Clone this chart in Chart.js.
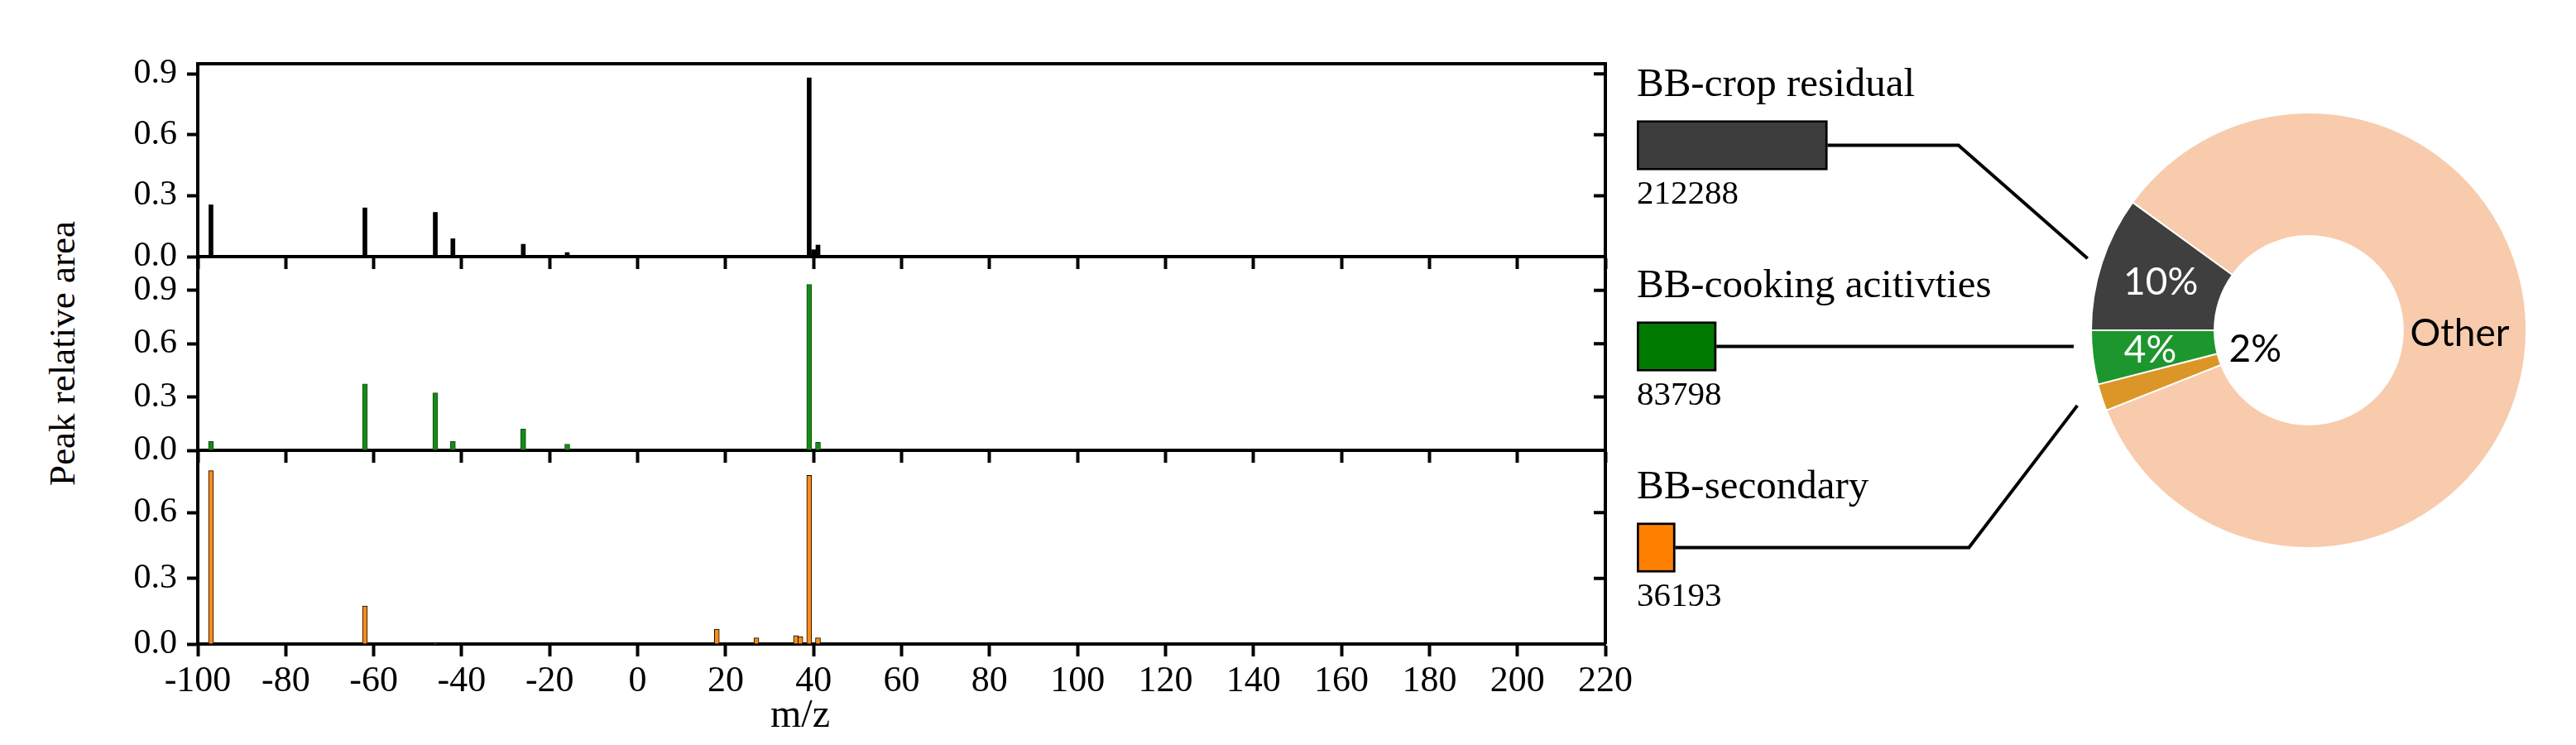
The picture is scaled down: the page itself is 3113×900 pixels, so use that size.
<!DOCTYPE html>
<html>
<head>
<meta charset="utf-8">
<script src="https://cdn.jsdelivr.net/npm/chart.js@4.4.0/dist/chart.umd.min.js"></script>
<style>
body { margin:0; background:#fff; overflow:hidden; width:3113px; height:900px; position:relative; }
canvas { position:absolute; }
.lbl { position:absolute; font-family:"Liberation Serif", serif; color:#000; white-space:nowrap; line-height:1; }
#ytitle { left:75px; top:427px; font-size:45px; transform:translate(-50%,-50%) rotate(-90deg); }
#xtitle { left:967px; top:862px; font-size:48px; transform:translate(-50%,-50%); }
</style>
</head>
<body>
<canvas id="p0"></canvas>
<canvas id="p1"></canvas>
<canvas id="p2"></canvas>
<canvas id="ring"></canvas>
<canvas id="keys"></canvas>
<div class="lbl" id="ytitle">Peak relative area</div>
<div class="lbl" id="xtitle">m/z</div>
<script>
// m/z axis
var mzMin = -100, mzMax = 220, mzStep = 20;
var yStep = 0.3;

// peaks: m/z and relative area for each source
var cropMz   = [-97, -62, -48, -46, -42, -26, -24, -17, -16, 39, 40, 41, 213];
var cropArea = [0.255, 0.24, 0.005, 0.218, 0.088, 0.061, 0.005, 0.005, 0.02, 0.88, 0.034, 0.057, 0.006];

var cookMz   = [-97, -62, -46, -42, -26, -16, 39, 41];
var cookArea = [0.05, 0.373, 0.323, 0.05, 0.12, 0.035, 0.933, 0.045];

var secMz   = [-97, -62, -46, 18, 27, 36, 37, 39, 41];
var secArea = [0.792, 0.174, 0.004, 0.068, 0.028, 0.038, 0.034, 0.77, 0.028];

var panelMax = [0.95, 1.09, 0.885];

// particle numbers per source
var srcNames  = ['BB-crop residual', 'BB-cooking acitivties', 'BB-secondary'];
var srcCounts = [212288, 83798, 36193];

// share of all particles, %
var shareNames  = ['BB-secondary', 'BB-cooking acitivties', 'BB-crop residual', 'Other'];
var shareValues = [2, 4, 10, 84];
var shareText   = ['2%', '4%', '10%', 'Other'];

Chart.defaults.font.family = '"Liberation Serif", serif';
Chart.defaults.color = '#000';

var plotLeft = 239, plotRight = 1940, yAxisW = 90, padTop = 10, padRight = 40;
var axisW = 4;

var frame = {
  id: 'frame',
  afterDraw: function(chart, args, opts) {
    var a = chart.chartArea, ctx = chart.ctx, y = chart.scales.y;
    ctx.save();
    ctx.strokeStyle = '#000';
    ctx.lineWidth = axisW;
    ctx.beginPath();
    ctx.moveTo(a.right, a.bottom);
    ctx.lineTo(a.right, a.top - (opts.top ? axisW / 2 : 0));
    if (opts.top) {
      ctx.moveTo(a.left - axisW / 2, a.top);
      ctx.lineTo(a.right + axisW / 2, a.top);
    }
    y.ticks.forEach(function(t) {
      if (t.value > 0) {
        var py = y.getPixelForValue(t.value);
        ctx.moveTo(a.right, py);
        ctx.lineTo(a.right - 14, py);
      }
    });
    ctx.stroke();
    ctx.restore();
  }
};

var panels = [
  {id:'p0', mz:cropMz, area:cropArea, fill:'#000000', edge:'#000000', bw:0, bt:5, top:77, bottom:310, labels:false},
  {id:'p1', mz:cookMz, area:cookArea, fill:'#178a17', edge:'#0b4d0b', bw:1, bt:6, top:310, bottom:544, labels:false},
  {id:'p2', mz:secMz, area:secArea, fill:'#ff8c1a', edge:'#000000', bw:1, bt:6, top:544, bottom:778, labels:true}
];

panels.forEach(function(p, i) {
  var xh = p.labels ? 90 : 18;
  var cv = document.getElementById(p.id);
  var w = yAxisW + (plotRight - plotLeft) + padRight;
  var h = padTop + (p.bottom - p.top) + xh;
  cv.width = w; cv.height = h;
  cv.style.width = w + 'px'; cv.style.height = h + 'px';
  cv.style.left = (plotLeft - yAxisW) + 'px';
  cv.style.top = (p.top - padTop) + 'px';

  new Chart(cv, {
    type: 'bar',
    data: {
      datasets: [{
        data: p.mz.map(function(m, k) { return {x: m, y: p.area[k]}; }),
        backgroundColor: p.fill,
        borderColor: p.edge,
        borderWidth: p.bw,
        barThickness: p.bt
      }]
    },
    options: {
      responsive: false,
      animation: false,
      layout: {padding: {top: padTop, right: padRight, left: 0, bottom: 0}},
      plugins: {legend: {display: false}, tooltip: {enabled: false}, frame: {top: i === 0}},
      scales: {
        x: {
          type: 'linear', min: mzMin, max: mzMax, offset: false,
          grid: {offset: false, drawOnChartArea: false, drawTicks: true, tickLength: 15, tickWidth: axisW, tickColor: '#000'},
          border: {display: true, color: '#000', width: axisW},
          ticks: {display: p.labels, stepSize: mzStep, autoSkip: false, maxRotation: 0, padding: 4, font: {size: 44}},
          afterFit: function(s) { s.height = xh; s.paddingLeft = 0; s.paddingRight = 0; }
        },
        y: {
          min: 0, max: panelMax[i],
          grid: {drawOnChartArea: false, drawTicks: true, tickLength: 13, tickWidth: axisW, tickColor: '#000'},
          border: {display: true, color: '#000', width: axisW},
          ticks: {stepSize: yStep, includeBounds: false, padding: 12, font: {size: 42},
                  callback: function(v) { return v.toFixed(1); }},
          afterFit: function(s) { s.width = yAxisW; s.paddingTop = 0; s.paddingBottom = 0; }
        }
      }
    },
    plugins: [frame]
  });
});

// key boxes: width follows the particle number (boxes keep a short stub at the start)
var keyLeft = 1978, keyTop = 54, keyW = 531, keyH = 729;
var keyCv = document.getElementById('keys');
keyCv.width = keyW; keyCv.height = keyH;
keyCv.style.width = keyW + 'px'; keyCv.style.height = keyH + 'px';
keyCv.style.left = keyLeft + 'px'; keyCv.style.top = keyTop + 'px';

var keyText = {
  id: 'keyText',
  afterDatasetsDraw: function(chart) {
    var ctx = chart.ctx, a = chart.chartArea;
    ctx.save();
    ctx.fillStyle = '#000';
    ctx.textAlign = 'left';
    ctx.textBaseline = 'middle';
    chart.getDatasetMeta(0).data.forEach(function(bar, k) {
      ctx.font = '49px "Liberation Serif"';
      ctx.fillText(srcNames[k], a.left, bar.y - 72);
      ctx.font = '41px "Liberation Serif"';
      ctx.fillText(String(srcCounts[k]), a.left, bar.y + 60);
    });
    ctx.restore();
  }
};

var keyChart = new Chart(keyCv, {
  type: 'bar',
  data: {
    labels: srcNames,
    datasets: [{
      data: srcCounts,
      base: -8300,
      backgroundColor: ['#3c3c3c', '#007a00', '#ff8000'],
      borderColor: '#000',
      borderWidth: 3,
      borderSkipped: false,
      barThickness: 60
    }]
  },
  options: {
    indexAxis: 'y',
    responsive: false,
    animation: false,
    layout: {padding: 0},
    plugins: {legend: {display: false}, tooltip: {enabled: false}},
    scales: {x: {display: false, min: -8300, max: 500000}, y: {display: false}}
  },
  plugins: [keyText]
});

// doughnut of shares
var ringLeft = 1960, ringTop = 0, ringW = 1153, ringH = 798;
var ringCv = document.getElementById('ring');
ringCv.width = ringW; ringCv.height = ringH;
ringCv.style.width = ringW + 'px'; ringCv.style.height = ringH + 'px';
ringCv.style.left = ringLeft + 'px'; ringCv.style.top = ringTop + 'px';

var labelR = [68, 193, 188, 184];
var labelDy = [2, 0, 0, -19];
var labelColor = ['#000', '#fff', '#fff', '#000'];
var linkR = [281, 284, 294];
var linkRun = [156, 0, 131];

var ringText = {
  id: 'ringText',
  afterDatasetsDraw: function(chart) {
    var ctx = chart.ctx;
    var arcs = chart.getDatasetMeta(0).data;
    ctx.save();
    ctx.font = '46px Lato';
    ctx.textAlign = 'center';
    ctx.textBaseline = 'middle';
    arcs.forEach(function(arc, j) {
      var mid = (arc.startAngle + arc.endAngle) / 2;
      ctx.fillStyle = labelColor[j];
      ctx.fillText(shareText[j], arc.x + labelR[j] * Math.cos(mid), arc.y + labelR[j] * Math.sin(mid) + labelDy[j]);
    });

    // leader lines from key boxes
    var dx = keyLeft - ringLeft, dy = keyTop - ringTop;
    ctx.strokeStyle = '#000';
    ctx.lineWidth = 4;
    keyChart.getDatasetMeta(0).data.forEach(function(bar, k) {
      var arc = arcs[shareNames.indexOf(srcNames[k])];
      var mid = (arc.startAngle + arc.endAngle) / 2;
      var sx = bar.x + dx, sy = bar.y + dy;
      ctx.beginPath();
      ctx.moveTo(sx, sy);
      if (linkRun[k] > 0) {
        var ex = arc.x + linkR[k] * Math.cos(mid), ey = arc.y + linkR[k] * Math.sin(mid);
        ctx.lineTo(ex - linkRun[k], sy);
        ctx.lineTo(ex, ey);
      } else {
        ctx.lineTo(arc.x - linkR[k], sy);
      }
      ctx.stroke();
    });
    ctx.restore();
  }
};

var startDeg = 270 - (shareValues[0] + shareValues[1]) * 3.6;

new Chart(ringCv, {
  type: 'doughnut',
  data: {
    labels: shareNames,
    datasets: [{
      data: shareValues,
      backgroundColor: ['#dc9628', '#1e962e', '#3f3f3f', '#f7cbac'],
      borderColor: '#ffffff',
      borderWidth: 2
    }]
  },
  options: {
    responsive: false,
    animation: false,
    radius: 263,
    cutout: '43.3%',
    rotation: startDeg,
    layout: {padding: {left: 507, right: 0, top: 0, bottom: 0}},
    plugins: {legend: {display: false}, tooltip: {enabled: false}}
  },
  plugins: [ringText]
});
</script>
</body>
</html>
